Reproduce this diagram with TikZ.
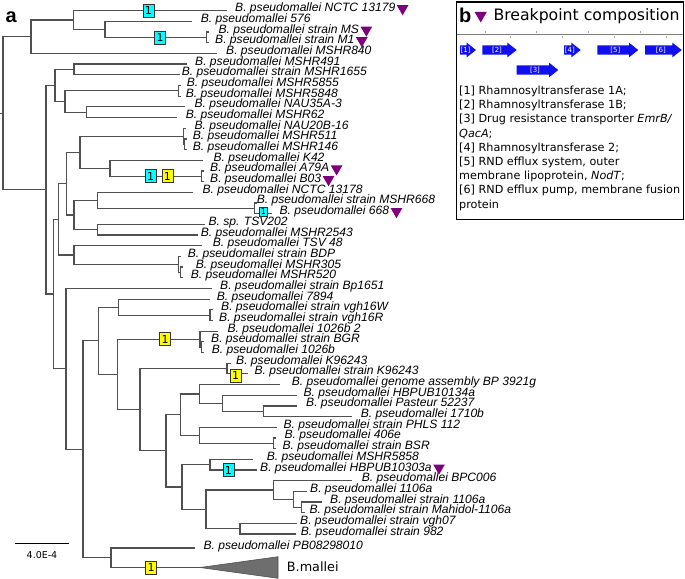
\documentclass[tikz,border=0pt]{standalone}
\usepackage{fontspec}
\setmainfont{Liberation Sans}
\newfontfamily\legfont{DejaVu Sans}
\usetikzlibrary{positioning, shapes.geometric}
\definecolor{branchgray}{RGB}{80,80,80}
\definecolor{bppurple}{RGB}{125,0,125}
\definecolor{evcyanc}{RGB}{0,255,255}
\definecolor{evyellowc}{RGB}{255,255,0}
\definecolor{geneblue}{RGB}{15,15,240}
\definecolor{malleigray}{RGB}{110,110,110}

\begin{document}
\begin{tikzpicture}[x=1pt, y=-1pt,
    branch/.style={draw=branchgray, line width=1.2pt},
    leaflab/.style={anchor=base west, inner sep=0pt, font=\fontsize{12.1}{12.1}\selectfont\itshape},
    evbox/.style={draw=black!80, line width=0.6pt, inner sep=0pt, minimum width=11pt, minimum height=13pt, font=\legfont\fontsize{11}{11}\selectfont},
    evcyan/.style={evbox, fill=evcyanc},
    evyellow/.style={evbox, fill=evyellowc},
    bptri/.style={regular polygon, regular polygon sides=3, shape border rotate=180, fill=bppurple, inner sep=0pt, minimum size=13.5pt},
    genelab/.style={text=white, inner sep=0pt, font=\legfont\fontsize{7}{7}\selectfont}]
    \useasboundingbox (0,0) rectangle (685,578);

    % panel a: tree
    \node[anchor=base west, inner sep=0pt, font=\bfseries\fontsize{20}{20}\selectfont] (panela) at (5.5,22.7) {a};

    % internal nodes
    \coordinate (stem) at (0,113.2);
    \coordinate (nR) at (3,113.2);
    \coordinate (nA) at (31,36.7);
    \coordinate (nA1) at (73.3,20.05);
    \coordinate (nA2) at (105,29.4);
    \coordinate (nA3) at (206.7,37.4);
    \coordinate (nB) at (46,189.75);
    \coordinate (nB1) at (55,85.5);
    \coordinate (nB11) at (74,69.45);
    \coordinate (nB12) at (65,101.5);
    \coordinate (nB121) at (178.3,90.8);
    \coordinate (nB122) at (86.7,112.15);
    \coordinate (nB2) at (53.3,294);
    \coordinate (nC) at (58.3,219.3);
    \coordinate (nC1) at (66.7,183.6);
    \coordinate (nC11) at (80,152.2);
    \coordinate (nC111) at (183.3,136.2);
    \coordinate (nC1111) at (184.5,144.2);
    \coordinate (nC112) at (110,168.2);
    \coordinate (nC1121) at (201.7,176.25);
    \coordinate (nC12) at (74,215);
    \coordinate (nC121) at (97.7,200.3);
    \coordinate (nC1211) at (254.3,208.25);
    \coordinate (nC122) at (97.7,229.65);
    \coordinate (nC2) at (74,255);
    \coordinate (nC21) at (178.3,264.3);
    \coordinate (nC211) at (180.5,272.35);
    \coordinate (nD) at (66,368.8);
    \coordinate (nE) at (83,449.25);
    \coordinate (nE1) at (98.3,340.75);
    \coordinate (nE11) at (118.3,307.1);
    \coordinate (nE111) at (210,315.1);
    \coordinate (nE12) at (117.7,374.4);
    \coordinate (nE121) at (200,339.1);
    \coordinate (nE1211) at (201.7,347.15);
    \coordinate (nE122) at (140,409.7);
    \coordinate (nE1221) at (227,368.5);
    \coordinate (nF) at (166,450.8);
    \coordinate (nF1) at (180.7,414.6);
    \coordinate (nF11) at (199.3,393.9);
    \coordinate (nF111) at (222.7,403.2);
    \coordinate (nF1111) at (263.3,411.25);
    \coordinate (nF12) at (199.3,435.2);
    \coordinate (nF121) at (273.3,443.25);
    \coordinate (nF2) at (182,487);
    \coordinate (nF21) at (210,464.65);
    \coordinate (nF22) at (206,509.4);
    \coordinate (nF221) at (273.3,490);
    \coordinate (nF2211) at (293.3,499.3);
    \coordinate (nF22111) at (301.7,507.35);
    \coordinate (nF222) at (240,528.7);
    \coordinate (nE2) at (111,557.75);

    % leaf tips
    \foreach \n/\tx/\ty in {1/226.7/10.7, 2/191.7/21.4, 3/209.2/32.1, 4/209.2/42.7, 5/216.7/53.4,
        6/186.7/64.1, 7/180/74.8, 8/180.8/85.5, 9/180.8/96.1, 10/185/106.8, 11/177/117.5,
        12/185.8/128.2, 13/187/138.9, 14/187/149.5, 15/202.7/160.2, 16/204.2/170.9, 17/204.2/181.6,
        18/193.3/192.3, 19/256.8/202.9, 20/272/213.6, 21/205/224.3, 22/198.3/235, 23/201.7/245.7,
        24/180.8/256.3, 25/183/267, 26/183/277.7, 27/212/288.4, 28/210/299.1, 29/212.5/309.8,
        30/212.5/320.4, 31/218/331.1, 32/204.2/341.8, 33/204.2/352.5, 34/231/363.2, 35/248/373.8,
        36/280/384.5, 37/296.7/395.2, 38/296.7/405.9, 39/351.7/416.6, 40/276.7/427.2, 41/275.8/437.9,
        42/275.8/448.6, 43/253/459.3, 44/256.7/470, 45/351.7/480.6, 46/306.7/491.3, 47/321.7/502,
        48/305/512.7, 49/296.7/523.4, 50/296/534, 51/195/548, 52/200/567.5}
        \coordinate (l\n) at (\tx,\ty);

    % branches
    \draw[branch] (stem) -- (nR);
    \foreach \p/\c in {nR/nA, nR/nB, nA/nA1, nA/l5, nA1/l1, nA1/nA2, nA2/l2, nA2/nA3, nA3/l3, nA3/l4,
        nB/nB1, nB/nB2, nB1/nB11, nB1/nB12, nB11/l6, nB11/l7, nB12/nB121, nB12/nB122,
        nB121/l8, nB121/l9, nB122/l10, nB122/l11,
        nB2/nC, nB2/nD, nC/nC1, nC/nC2, nC1/nC11, nC1/nC12, nC11/nC111, nC11/nC112,
        nC111/l12, nC111/nC1111, nC1111/l13, nC1111/l14, nC112/l15, nC112/nC1121, nC1121/l16, nC1121/l17,
        nC12/nC121, nC12/nC122, nC121/l18, nC121/nC1211, nC1211/l19, nC1211/l20, nC122/l21, nC122/l22,
        nC2/l23, nC2/nC21, nC21/l24, nC21/nC211, nC211/l25, nC211/l26,
        nD/l27, nD/nE, nE/nE1, nE/nE2, nE1/nE11, nE1/nE12, nE11/l28, nE11/nE111, nE111/l29, nE111/l30,
        nE12/nE121, nE12/nE122, nE121/l31, nE121/nE1211, nE1211/l32, nE1211/l33,
        nE122/nE1221, nE122/nF, nE1221/l34, nE1221/l35,
        nF/nF1, nF/nF2, nF1/nF11, nF1/nF12, nF11/l36, nF11/nF111, nF111/l37, nF111/nF1111,
        nF1111/l38, nF1111/l39, nF12/l40, nF12/nF121, nF121/l41, nF121/l42,
        nF2/nF21, nF2/nF22, nF21/l43, nF21/l44, nF22/nF221, nF22/nF222, nF221/l45, nF221/nF2211,
        nF2211/l46, nF2211/nF22111, nF22111/l47, nF22111/l48, nF222/l49, nF222/l50,
        nE2/l51, nE2/l52}
        \draw[branch] (\p) |- (\c);

    % collapsed B. mallei clade
    \fill[malleigray, draw=branchgray, line width=0.6pt] (l52) -- (278,556.7) -- (278,578.3) -- cycle;
    \node[anchor=base west, inner sep=0pt, font=\legfont\fontsize{12.8}{12.8}\selectfont] (t52) at (286.7,571) {B.mallei};

    % leaf labels
    \foreach \n/\lx/\ly/\txt in {1/235/10.7/B. pseudomallei NCTC 13179,
        2/200.7/21.4/B. pseudomallei 576,
        3/218.3/32.1/B. pseudomallei strain MS,
        4/215/42.7/B. pseudomallei strain M1,
        5/226/53.4/B. pseudomallei MSHR840,
        6/195/64.1/B. pseudomallei MSHR491,
        7/181.7/74.8/B. pseudomallei strain MSHR1655,
        8/186.7/85.5/B. pseudomallei MSHR5855,
        9/185.7/96.1/B. pseudomallei MSHR5848,
        10/194.3/106.8/B. pseudomallei NAU35A-3,
        11/185.7/117.5/B. pseudomallei MSHR62,
        12/194.3/128.2/B. pseudomallei NAU20B-16,
        13/192.7/138.9/B. pseudomallei MSHR511,
        14/192.7/149.5/B. pseudomallei MSHR146,
        15/213.3/160.2/B. pseudomallei K42,
        16/210/170.9/B. pseudomallei A79A,
        17/210/181.6/B. pseudomallei B03,
        18/202.3/192.3/B. pseudomallei NCTC 13178,
        19/256.7/202.9/B. pseudomallei strain MSHR668,
        20/279.3/213.6/B. pseudomallei 668,
        21/208.3/224.3/B. sp. TSV202,
        22/200.7/235/B. pseudomallei MSHR2543,
        23/212.7/245.7/B. pseudomallei TSV 48,
        24/187.7/256.3/B. pseudomallei strain BDP,
        25/195.7/267/B. pseudomallei MSHR305,
        26/190.7/277.7/B. pseudomallei MSHR520,
        27/220/288.4/B. pseudomallei strain Bp1651,
        28/216.7/299.1/B. pseudomallei 7894,
        29/221/309.8/B. pseudomallei strain vgh16W,
        30/219/320.4/B. pseudomallei strain vgh16R,
        31/227.3/331.1/B. pseudomallei 1026b 2,
        32/211/341.8/B. pseudomallei strain BGR,
        33/211.7/352.5/B. pseudomallei 1026b,
        34/236/363.2/B. pseudomallei K96243,
        35/254.3/373.8/B. pseudomallei strain K96243,
        36/291.7/384.5/B. pseudomallei genome assembly BP 3921g,
        37/303.3/395.2/B. pseudomallei HBPUB10134a,
        38/306/405.9/B. pseudomallei Pasteur 52237,
        39/360.7/416.6/B. pseudomallei 1710b,
        40/283.3/427.2/B. pseudomallei strain PHLS 112,
        41/284.3/437.9/B. pseudomallei 406e,
        42/282.3/448.6/B. pseudomallei strain BSR,
        43/266.7/459.3/B. pseudomallei MSHR5858,
        44/260/470/B. pseudomallei HBPUB10303a,
        45/361.7/480.6/B. pseudomallei BPC006,
        46/310/491.3/B. pseudomallei 1106a,
        47/330/502/B. pseudomallei strain 1106a,
        48/309.3/512.7/B. pseudomallei strain Mahidol-1106a,
        49/300/523.4/B. pseudomallei strain vgh07,
        50/300.7/534/B. pseudomallei strain 982,
        51/203.3/548/B. pseudomallei PB08298010}
        \node[leaflab] (t\n) at (\lx,\ly+1) {\txt};

    % breakpoints
    \foreach \n in {1,3,4,16,17,20,44}
        \node[bptri, right=3pt of t\n] (bp\n) {};

    % rhamnosyltransferase events
    \node[evcyan] (ev1) at (148.3,10.7) {1};
    \node[evcyan] (ev2) at (160,37.4) {1};
    \node[evcyan] (ev3) at (150.7,176.25) {1};
    \node[evyellow] (ev4) at (167.3,176.25) {1};
    \node[evcyan, minimum width=8.3pt, minimum height=9.3pt, font=\legfont\fontsize{8}{8}\selectfont] (ev5) at (263.5,212) {1};
    \node[evyellow] (ev6) at (165,339.1) {1};
    \node[evyellow] (ev7) at (235.5,375.5) {1};
    \node[evcyan] (ev8) at (228.3,470) {1};
    \node[evyellow] (ev9) at (151,567.5) {1};

    % scale bar
    \coordinate (sb1) at (15,543.3);
    \coordinate (sb2) at (69,543.3);
    \draw[line width=1.2pt] (sb1) -- (sb2);
    \node[inner sep=0pt, font=\legfont\fontsize{9.5}{9.5}\selectfont] (sblab) at (42,555) {4.0E-4};

    % panel b: legend
    \draw[line width=1.3pt] (456.5,2) rectangle (683.3,219.5);
    \node[anchor=base west, inner sep=0pt, font=\bfseries\fontsize{20}{20}\selectfont] (panelb) at (459,22.3) {b};
    \node[bptri, minimum size=14pt] (btri) at (480.7,15.5) {};
    \node[anchor=base west, inner sep=0pt, font=\legfont\fontsize{15.7}{15.7}\selectfont] (btitle) at (493.3,20.7) {Breakpoint composition};
    \draw[gray, line width=0.8pt] (456.5,34.3) -- (683.3,34.3);
    \foreach \tx in {485,536.7,588.3,640}
        \draw[gray!70, line width=0.5pt] (\tx,31.5) -- (\tx,33);
    \foreach \tx in {510.7,562.7,614.3,666}
        \draw[gray!70, line width=0.5pt] (\tx,36.5) -- (\tx,38);

    % genes of the breakpoint
    \foreach \n/\xa/\xb/\yy in {1/460/476/50, 2/482.3/516.7/50, 3/516.7/558.3/70,
        4/564/580.7/50, 5/597.3/638.3/50, 6/645/681.7/50} {
        \fill[geneblue] (\xa,\yy-4.65) -- (\xb-9.3,\yy-4.65) -- (\xb-9.3,\yy-7.35) -- (\xb,\yy)
            -- (\xb-9.3,\yy+7.35) -- (\xb-9.3,\yy+4.65) -- (\xa,\yy+4.65) -- cycle;
        \node[genelab] (g\n) at ({(\xa+\xb)/2-2.5},\yy) {[\n]};
    }

    \node[anchor=north west, inner sep=0pt, align=left, font=\legfont\fontsize{11.2}{14.2}\selectfont] (legtxt) at (459,85.8)
        {[1] Rhamnosyltransferase 1A;\\{}[2] Rhamnosyltransferase 1B;\\{}[3] Drug resistance transporter \textit{EmrB/}\\\textit{QacA};\\{}[4] Rhamnosyltransferase 2;\\{}[5] RND efflux system, outer\\membrane lipoprotein, \textit{NodT};\\{}[6] RND efflux pump, membrane fusion\\protein};
\end{tikzpicture}
\end{document}
